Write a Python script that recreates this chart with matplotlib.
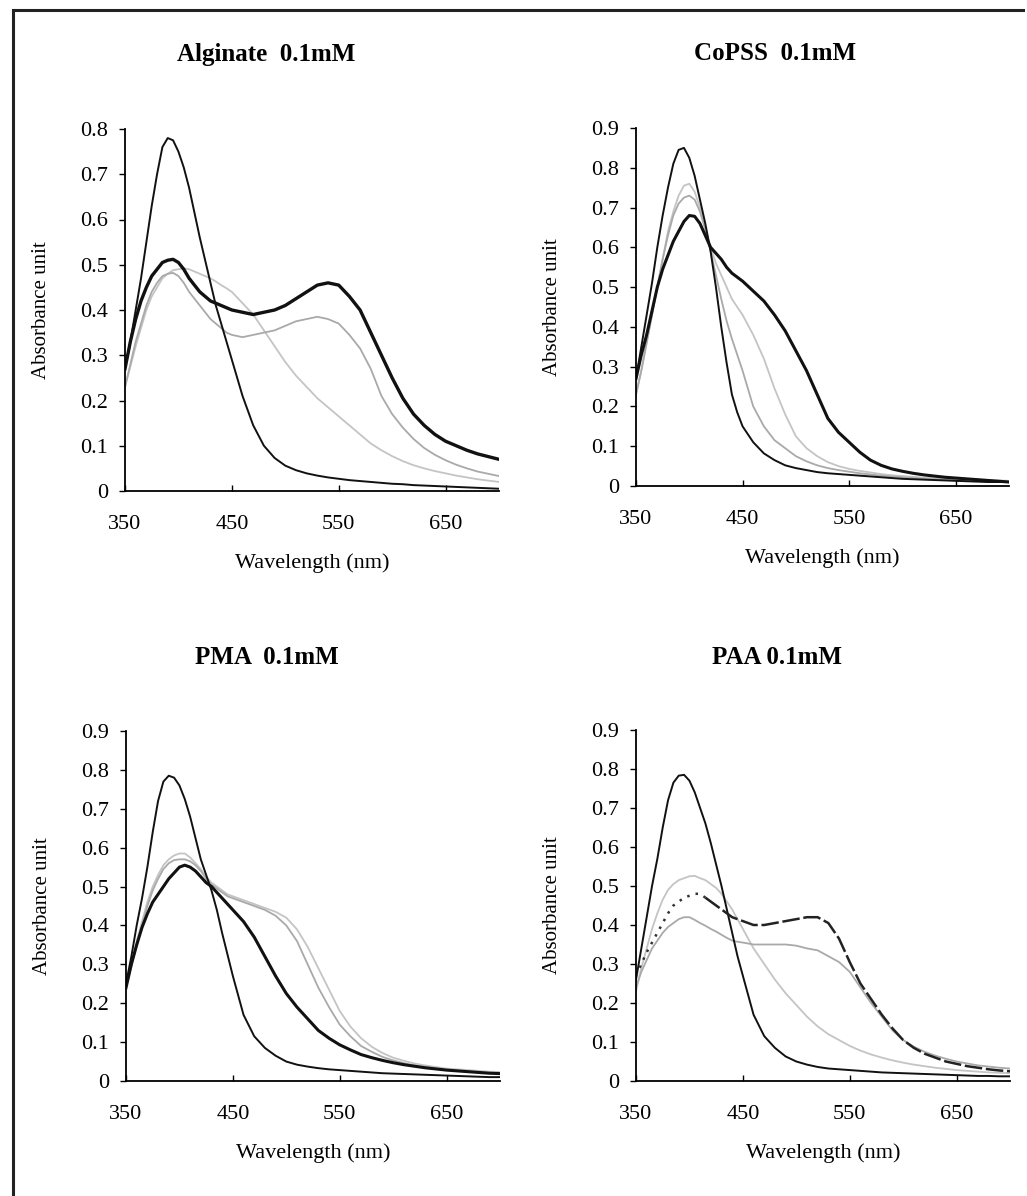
import matplotlib.pyplot as plt
from matplotlib.lines import Line2D

plt.rcParams['font.family'] = ['Liberation Serif', 'DejaVu Serif']

# longitud de onda (nm), comun a todas las curvas (paso de 5 nm hasta 450)
wavelength = [350, 355, 360, 365, 370, 375, 380, 385, 390, 395, 400, 405,
              410, 415, 420, 425, 430, 435, 440, 445, 450,
              460, 470, 480, 490, 500, 510, 520, 530, 540, 550, 560, 570,
              580, 590, 600, 610, 620, 630, 640, 650, 660, 670, 680, 690, 700]

# Alginate 0.1mM
alg_ref = [0.27, 0.33, 0.40, 0.47, 0.55, 0.63, 0.70, 0.76, 0.78, 0.775, 0.75, 0.715,
           0.67, 0.615, 0.56, 0.51, 0.46, 0.41, 0.37, 0.33, 0.29,
           0.21, 0.145, 0.10, 0.073, 0.056, 0.046, 0.039, 0.034, 0.030, 0.027, 0.024, 0.022,
           0.020, 0.018, 0.016, 0.015, 0.013, 0.012, 0.011, 0.010, 0.009, 0.008, 0.007, 0.006, 0.005]
alg_thick = [0.27, 0.33, 0.38, 0.42, 0.45, 0.475, 0.49, 0.505, 0.51, 0.512, 0.505, 0.49,
             0.47, 0.455, 0.44, 0.43, 0.42, 0.415, 0.41, 0.405, 0.40,
             0.395, 0.39, 0.395, 0.40, 0.41, 0.425, 0.44, 0.455, 0.46, 0.455, 0.43, 0.40,
             0.35, 0.30, 0.25, 0.205, 0.17, 0.145, 0.125, 0.11, 0.10, 0.09, 0.082, 0.076, 0.07]
alg_grey_a = [0.23, 0.275, 0.32, 0.36, 0.40, 0.43, 0.45, 0.47, 0.48, 0.488, 0.49, 0.492,
              0.49, 0.485, 0.48, 0.475, 0.47, 0.463, 0.455, 0.448, 0.44,
              0.415, 0.39, 0.355, 0.32, 0.285, 0.255, 0.23, 0.205, 0.185, 0.165, 0.145, 0.125,
              0.105, 0.09, 0.077, 0.066, 0.057, 0.05, 0.044, 0.039, 0.034, 0.030, 0.026, 0.023, 0.020]
alg_grey_b = [0.23, 0.28, 0.33, 0.37, 0.41, 0.44, 0.46, 0.475, 0.48, 0.482, 0.475, 0.46,
              0.44, 0.425, 0.41, 0.395, 0.38, 0.37, 0.36, 0.35, 0.345,
              0.34, 0.345, 0.35, 0.355, 0.365, 0.375, 0.38, 0.385, 0.38, 0.37, 0.345, 0.315,
              0.27, 0.21, 0.17, 0.14, 0.115, 0.095, 0.08, 0.068, 0.058, 0.05, 0.043, 0.038, 0.033]

# CoPSS 0.1mM
cop_ref = [0.27, 0.35, 0.43, 0.51, 0.60, 0.68, 0.75, 0.81, 0.845, 0.85, 0.825, 0.78,
           0.72, 0.66, 0.59, 0.50, 0.40, 0.31, 0.23, 0.185, 0.15,
           0.11, 0.082, 0.065, 0.052, 0.045, 0.040, 0.035, 0.032, 0.030, 0.028, 0.026, 0.024,
           0.022, 0.020, 0.018, 0.017, 0.016, 0.015, 0.014, 0.013, 0.012, 0.011, 0.010, 0.010, 0.010]
cop_thick = [0.27, 0.33, 0.38, 0.44, 0.50, 0.545, 0.58, 0.615, 0.64, 0.665, 0.68, 0.678,
             0.66, 0.63, 0.60, 0.585, 0.57, 0.55, 0.535, 0.525, 0.515,
             0.49, 0.465, 0.43, 0.39, 0.34, 0.29, 0.23, 0.17, 0.135, 0.11, 0.085, 0.065,
             0.052, 0.043, 0.037, 0.032, 0.028, 0.025, 0.022, 0.020, 0.018, 0.016, 0.014, 0.012, 0.010]
cop_grey_a = [0.23, 0.29, 0.36, 0.43, 0.50, 0.57, 0.64, 0.69, 0.73, 0.755, 0.76, 0.74,
              0.70, 0.65, 0.60, 0.56, 0.53, 0.50, 0.47, 0.45, 0.43,
              0.38, 0.32, 0.245, 0.18, 0.125, 0.095, 0.075, 0.06, 0.05, 0.043, 0.038, 0.034,
              0.030, 0.027, 0.025, 0.023, 0.021, 0.020, 0.019, 0.018, 0.017, 0.016, 0.015, 0.014, 0.013]
cop_grey_b = [0.23, 0.29, 0.36, 0.43, 0.50, 0.57, 0.63, 0.68, 0.71, 0.725, 0.73, 0.72,
              0.69, 0.645, 0.59, 0.53, 0.47, 0.415, 0.37, 0.33, 0.29,
              0.20, 0.15, 0.115, 0.095, 0.075, 0.062, 0.052, 0.045, 0.040, 0.036, 0.032, 0.029,
              0.026, 0.024, 0.022, 0.020, 0.018, 0.017, 0.016, 0.015, 0.014, 0.013, 0.012, 0.011, 0.010]

# PMA 0.1mM
pma_ref = [0.25, 0.32, 0.40, 0.47, 0.55, 0.64, 0.72, 0.77, 0.785, 0.78, 0.76, 0.725,
           0.68, 0.625, 0.57, 0.53, 0.49, 0.44, 0.38, 0.325, 0.27,
           0.17, 0.115, 0.085, 0.065, 0.05, 0.042, 0.037, 0.033, 0.030, 0.028, 0.026, 0.024,
           0.022, 0.020, 0.019, 0.018, 0.017, 0.016, 0.015, 0.014, 0.013, 0.012, 0.011, 0.010, 0.010]
pma_thick = [0.24, 0.30, 0.35, 0.395, 0.43, 0.46, 0.48, 0.50, 0.52, 0.535, 0.55, 0.555,
             0.55, 0.54, 0.525, 0.51, 0.50, 0.485, 0.47, 0.455, 0.44,
             0.41, 0.37, 0.32, 0.27, 0.225, 0.19, 0.16, 0.13, 0.11, 0.093, 0.08, 0.068,
             0.06, 0.053, 0.047, 0.042, 0.038, 0.034, 0.031, 0.028, 0.026, 0.024, 0.022, 0.020, 0.019]
pma_grey_a = [0.24, 0.30, 0.36, 0.41, 0.46, 0.50, 0.53, 0.555, 0.57, 0.58, 0.585, 0.585,
              0.575, 0.56, 0.545, 0.525, 0.51, 0.50, 0.49, 0.48, 0.475,
              0.465, 0.455, 0.445, 0.435, 0.42, 0.39, 0.345, 0.29, 0.235, 0.18, 0.14, 0.11,
              0.088, 0.072, 0.06, 0.052, 0.045, 0.040, 0.036, 0.032, 0.030, 0.028, 0.026, 0.024, 0.023]
pma_grey_b = [0.24, 0.295, 0.35, 0.40, 0.45, 0.49, 0.52, 0.545, 0.56, 0.568, 0.57, 0.57,
              0.565, 0.555, 0.54, 0.52, 0.505, 0.495, 0.485, 0.475, 0.47,
              0.46, 0.45, 0.44, 0.425, 0.40, 0.36, 0.30, 0.24, 0.19, 0.145, 0.115, 0.09,
              0.075, 0.062, 0.053, 0.046, 0.040, 0.036, 0.032, 0.029, 0.026, 0.024, 0.022, 0.021, 0.020]

# PAA 0.1mM
paa_ref = [0.26, 0.34, 0.42, 0.50, 0.57, 0.65, 0.72, 0.765, 0.783, 0.785, 0.77, 0.74,
           0.70, 0.66, 0.61, 0.555, 0.50, 0.44, 0.38, 0.32, 0.27,
           0.17, 0.115, 0.085, 0.063, 0.05, 0.042, 0.036, 0.032, 0.030, 0.028, 0.026, 0.024,
           0.022, 0.021, 0.020, 0.019, 0.018, 0.017, 0.016, 0.015, 0.014, 0.013, 0.013, 0.012, 0.012]
paa_dots = [0.27, 0.30, 0.33, 0.355, 0.38, 0.405, 0.43, 0.45, 0.46, 0.47, 0.475, 0.48,
            0.48, 0.47, 0.46, 0.45, 0.44, 0.43, 0.42, 0.415, 0.41,
            0.40, 0.40, 0.405, 0.41, 0.415, 0.42, 0.42, 0.405, 0.365, 0.305, 0.25, 0.21,
            0.17, 0.135, 0.105, 0.085, 0.07, 0.06, 0.05, 0.044, 0.038, 0.034, 0.030, 0.027, 0.025]
paa_grey_a = [0.23, 0.29, 0.34, 0.39, 0.43, 0.465, 0.49, 0.505, 0.515, 0.52, 0.525, 0.526,
              0.52, 0.515, 0.505, 0.495, 0.48, 0.46, 0.44, 0.415, 0.39,
              0.34, 0.30, 0.26, 0.225, 0.195, 0.165, 0.14, 0.12, 0.105, 0.09, 0.078, 0.068,
              0.06, 0.053, 0.047, 0.042, 0.038, 0.034, 0.031, 0.028, 0.026, 0.024, 0.022, 0.021, 0.020]
paa_grey_b = [0.24, 0.28, 0.31, 0.34, 0.36, 0.38, 0.395, 0.405, 0.415, 0.42, 0.42, 0.413,
              0.405, 0.398, 0.39, 0.383, 0.375, 0.367, 0.36, 0.357, 0.355,
              0.35, 0.35, 0.35, 0.35, 0.347, 0.34, 0.335, 0.32, 0.305, 0.28, 0.24, 0.20,
              0.165, 0.13, 0.105, 0.088, 0.075, 0.065, 0.057, 0.05, 0.045, 0.040, 0.037, 0.034, 0.032]

titles = ['Alginate  0.1mM', 'CoPSS  0.1mM', 'PMA  0.1mM', 'PAA 0.1mM']
y_tops = [0.8, 0.9, 0.9, 0.9]

W, H = 1027, 1196
fig = plt.figure(figsize=(W / 100, H / 100), dpi=100)
fig.patch.set_facecolor('white')

# marco del escaneo: linea superior e izquierda
fig.add_artist(Line2D([13 / W, 1023 / W], [1 - 10 / H, 1 - 10 / H], color='#222222', lw=2.2))
fig.add_artist(Line2D([13 / W, 13 / W], [1 - 10 / H, 0], color='#222222', lw=2.2))

# cajas de los ejes en pixeles: izquierda, derecha, abajo, arriba
boxes = [(125, 499, 491, 129), (636, 1009, 486, 128),
         (126, 500, 1081, 731), (636, 1010, 1081, 730)]
title_pos = [(266, 54), (775, 54), (267, 657), (777, 657)]


def panel(k, series):
    l, r, b, t = boxes[k]
    ax = fig.add_axes([l / W, 1 - b / H, (r - l) / W, (b - t) / H])
    for vals, color, lw, ls in series:
        ax.plot(wavelength, vals, color=color, lw=lw, ls=ls)
    ax.set_xlim(350, 700)
    ax.set_ylim(0, y_tops[k])
    ax.set_xticks([350, 450, 550, 650])
    n = int(round(y_tops[k] * 10))
    ax.set_yticks([i / 10 for i in range(n + 1)])
    ax.set_yticklabels(['0'] + ['%.1f' % (i / 10) for i in range(1, n + 1)])
    ax.tick_params(axis='x', direction='in', length=4, pad=17, labelsize=16, width=1)
    ax.tick_params(axis='y', direction='out', length=4, pad=8, labelsize=16, width=1)
    for s in ['top', 'right']:
        ax.spines[s].set_visible(False)
    for s in ['left', 'bottom']:
        ax.spines[s].set_linewidth(1.3)
    ax.set_xlabel('Wavelength (nm)', fontsize=16, labelpad=14)
    ax.set_ylabel('Absorbance unit', fontsize=15)
    ax.yaxis.set_label_coords(-74 / (r - l), 0.5)
    fig.text(title_pos[k][0] / W, 1 - title_pos[k][1] / H, titles[k],
             ha='center', va='center', fontsize=18, fontweight='bold')
    return ax


dark = '#111111'
grey1 = '#a9a9a9'
grey2 = '#c4c4c4'

panel(0, [(alg_grey_a, grey2, 1.3, '-'), (alg_grey_b, grey1, 1.3, '-'),
          (alg_ref, dark, 1.4, '-'), (alg_thick, dark, 2.4, '-')])
panel(1, [(cop_grey_a, grey2, 1.3, '-'), (cop_grey_b, grey1, 1.3, '-'),
          (cop_ref, dark, 1.4, '-'), (cop_thick, dark, 2.2, '-')])
panel(2, [(pma_grey_a, grey2, 1.3, '-'), (pma_grey_b, grey1, 1.3, '-'),
          (pma_ref, dark, 1.4, '-'), (pma_thick, dark, 2.2, '-')])
ax = panel(3, [(paa_grey_a, grey2, 1.3, '-'), (paa_grey_b, grey1, 1.3, '-'),
               (paa_ref, dark, 1.4, '-')])
# curva punteada del PAA: puntos al subir, trazos despues del maximo
split = wavelength.index(415)
ax.plot(wavelength[:split + 1], paa_dots[:split + 1], color='#333333', lw=1.8, ls=(0, (1, 2.5)))
ax.plot(wavelength[split:], paa_dots[split:], color='#222222', lw=1.8, ls=(0, (7, 1.5)))

fig.savefig('out.png', dpi=100, facecolor='white')
